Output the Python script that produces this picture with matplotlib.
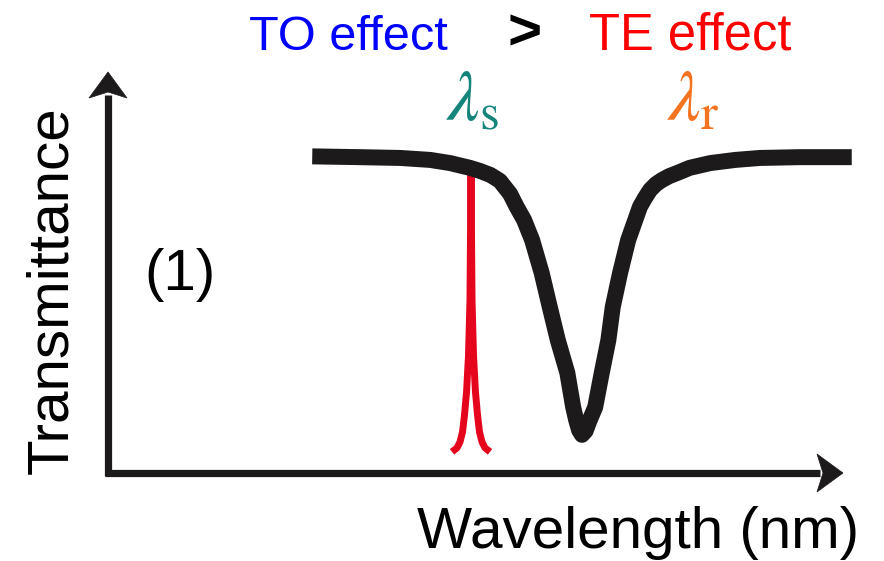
import matplotlib.pyplot as plt
from matplotlib.patches import Polygon

# resonance dip of the ring (wavelength in a.u., transmittance 0..1)
dip_wl = [28.0, 34.5, 40.0, 44.1, 46.8, 49.5, 50.9, 52.3, 53.6, 55.0, 55.9, 56.9,
          58.0, 59.3, 60.4, 61.5, 62.8, 63.6, 64.0, 64.4, 64.8, 65.3, 65.8, 66.6,
          67.5, 68.4, 69.0, 70.0, 71.1, 72.7, 73.4, 74.1, 74.9, 75.7, 76.7, 77.8,
          79.5, 82.3, 85.7, 89.1, 94.5, 101.6]
dip_tr = [0.794, 0.792, 0.790, 0.785, 0.777, 0.765, 0.757, 0.747, 0.732, 0.699, 0.666, 0.633,
          0.582, 0.499, 0.413, 0.329, 0.246, 0.159, 0.127, 0.101, 0.089, 0.099, 0.124, 0.159,
          0.246, 0.329, 0.413, 0.499, 0.582, 0.666, 0.689, 0.709, 0.724, 0.734, 0.744, 0.752,
          0.765, 0.777, 0.785, 0.790, 0.792, 0.792]

# narrow signal line at lambda_s
sig_wl = [47.07, 47.75, 48.16, 48.50, 48.77, 49.05, 49.32, 49.52, 49.66,
          49.80, 50.00, 50.27, 50.55, 50.82, 51.16, 51.57, 52.25]
sig_tr = [0.046, 0.056, 0.071, 0.096, 0.139, 0.197, 0.291, 0.430, 0.754,
          0.430, 0.291, 0.197, 0.139, 0.096, 0.071, 0.056, 0.046]

W, H = 884, 561
fig = plt.figure(figsize=(W / 100, H / 100), dpi=100)
ax = fig.add_axes([0, 0, 1, 1])
# origin of the drawn axes sits at pixel (107, 470); 7.33 px per unit in x, 395 px per unit in y
ax.set_xlim(-107 / 7.33, (W - 107) / 7.33)
ax.set_ylim((470 - H) / 395, 470 / 395)
ax.axis('off')

axis_col = '#1c1a1a'


def px(x, y):
    return x / W, 1 - y / H


def arrow_head(tip, direction, length=26, half=19, notch=6):
    tx, ty = tip
    dx, dy = direction
    nx, ny = -dy, dx
    pts = [(tx, ty),
           (tx - dx * length + nx * half, ty - dy * length + ny * half),
           (tx - dx * (length - notch), ty - dy * (length - notch)),
           (tx - dx * length - nx * half, ty - dy * length - ny * half)]
    pts = [px(x, y) for x, y in pts]
    fig.patches.append(Polygon(pts, closed=True, transform=fig.transFigure,
                               facecolor=axis_col, edgecolor=axis_col, lw=0.5))


# axes with arrows
fig.add_artist(plt.Line2D([px(108, 473)[0], px(108, 95)[0]], [px(108, 476)[1], px(108, 95)[1]],
                          color=axis_col, lw=5.2, solid_capstyle='butt'))
fig.add_artist(plt.Line2D([px(105, 473)[0], px(820, 473)[0]], [px(105, 473)[1], px(820, 473)[1]],
                          color=axis_col, lw=5.2, solid_capstyle='butt'))
arrow_head((108, 72), (0, -1))
arrow_head((843, 473), (1, 0))

ax.plot(sig_wl, sig_tr, color='#e5051c', lw=5, solid_capstyle='butt',
        solid_joinstyle='round', zorder=2)
ax.plot(dip_wl, dip_tr, color='#1c1a1a', lw=11.5, solid_capstyle='butt',
        solid_joinstyle='round', zorder=3, clip_on=False)

sans = ['Liberation Sans', 'DejaVu Sans']
fig.text(*px(52, 290), 'Transmittance', rotation=90, ha='center', va='center',
         fontsize=42, family=sans)
fig.text(*px(417, 548), 'Wavelength (nm)', ha='left', va='baseline',
         fontsize=42, family=sans)
fig.text(*px(144, 290), '(1)', ha='left', va='baseline', fontsize=42, family=sans)
fig.text(*px(249, 50), 'TO effect', ha='left', va='baseline', fontsize=35,
         color='#0000ff', family=sans)
fig.text(*px(508, 50), '>', ha='left', va='baseline', fontsize=42,
         fontweight='bold', color='black', family=sans)
fig.text(*px(589, 50), 'TE effect', ha='left', va='baseline', fontsize=36.5,
         color='#ff0000', family=sans)

plt.rcParams['mathtext.fontset'] = 'stix'
fig.text(*px(446, 120), r'$\lambda_{\mathrm{s}}$', ha='left', va='baseline',
         fontsize=52, color='#15847b')
fig.text(*px(667, 120), r'$\lambda_{\mathrm{r}}$', ha='left', va='baseline',
         fontsize=52, color='#f47321')

fig.savefig('out.png', dpi=100)
